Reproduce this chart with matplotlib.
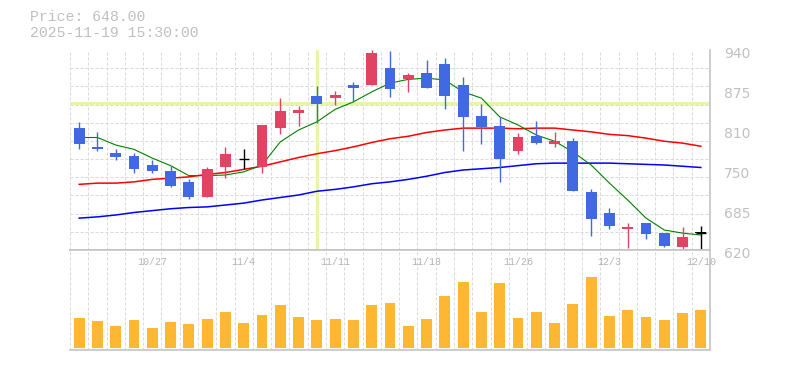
import numpy as np
import matplotlib
matplotlib.use('Agg')
import matplotlib.pyplot as plt
from matplotlib.transforms import ScaledTranslation, blended_transform_factory

# Daily OHLC, volume and moving averages
dates = ['10/21', '10/22', '10/23', '10/24', '10/27', '10/28', '10/29', '10/30', '10/31',
         '11/4', '11/5', '11/6', '11/7', '11/10', '11/11', '11/12', '11/13', '11/14',
         '11/17', '11/18', '11/19', '11/20', '11/21', '11/25', '11/26', '11/27', '11/28',
         '12/1', '12/2', '12/3', '12/4', '12/5', '12/8', '12/9', '12/10']
opens = [815, 785, 776, 770, 756, 746, 729, 705, 753, 765, 753, 816, 840, 866, 864, 884, 884, 911,
         893, 903, 918, 884, 834, 818, 778, 802, 790, 794, 713, 679, 653, 663, 647, 625, 648]
closes = [790, 782, 769, 749, 747, 723, 705, 750, 774, 765, 820, 842, 844, 854, 868, 880, 935, 878,
          900, 880, 867, 833, 817, 765, 801, 792, 794, 715, 669, 659, 657, 645, 626, 641, 648]
highs = [825, 809, 782, 776, 764, 755, 734, 753, 785, 782, 820, 863, 850, 882, 874, 889, 940, 938,
         904, 924, 927, 897, 854, 833, 807, 826, 809, 799, 718, 687, 663, 664, 647, 657, 658]
lows = [782, 779, 764, 744, 744, 721, 701, 705, 736, 750, 744, 805, 819, 824, 852, 859, 884, 865,
        873, 880, 845, 779, 790, 729, 774, 789, 785, 715, 643, 653, 624, 637, 625, 622, 621]
volumes = [300, 270, 220, 280, 200, 260, 240, 290, 360, 250, 330, 430, 310, 280, 290, 280, 430, 450,
           220, 290, 520, 660, 360, 650, 300, 360, 250, 440, 710, 320, 380, 310, 280, 350, 380]
ma5 = [800, 800, 788, 781, 767, 755, 739, 739, 740, 745, 756, 793, 812, 825, 845, 857, 873, 887,
       893, 895, 892, 873, 863, 833, 820, 804, 794, 777, 756, 727, 700, 671, 652, 647, 644]
ma25 = [725, 727, 727, 729, 733, 735, 737, 741, 744, 749, 754, 761, 768, 774, 779, 785, 792, 798,
        802, 808, 812, 815, 815, 815, 814, 815, 815, 812, 809, 805, 803, 799, 794, 791, 786]
ma75 = [671, 673, 676, 680, 683, 686, 688, 689, 692, 695, 700, 704, 708, 714, 717, 721, 726, 729,
        733, 738, 744, 748, 750, 752, 755, 758, 759, 759, 759, 759, 758, 757, 756, 754, 752]

price_ticks = [940, 876, 812, 748, 684, 620]
price_labels = ['940', '875', '810', '750', '685', '620']
date_label_idx = [4, 9, 14, 19, 24, 29, 34]
cross_idx = 13
cross_price = 855

UP = '#E04462'
DOWN = '#4169E1'
GRID = '#d9d9d9'
EDGE = '#c4c4c4'
TXT = '#c0c0c0'

W, H = 785, 370
fig = plt.figure(figsize=(W / 100, H / 100), dpi=100)
ax = fig.add_axes([70 / W, (H - 250) / H, 640 / W, 200 / H])
axv = fig.add_axes([70 / W, (H - 350) / H, 640 / W, 100 / H])

x = np.arange(len(dates))
o, c, h, l = map(np.array, (opens, closes, highs, lows))

# grid
for a in (ax, axv):
    a.set_xlim(-0.5, len(dates) - 0.5)
    a.set_xticks(np.arange(-0.5, len(dates), 1), minor=True)
    a.set_xticks([])
    a.grid(which='minor', axis='x', color=GRID, lw=0.72, dashes=(3, 2))
    a.tick_params(which='both', length=0)
    a.set_axisbelow(True)

ax.set_ylim(620, 940)
ax.set_yticks(np.linspace(620, 940, 12), minor=True)
ax.grid(which='minor', axis='y', color=GRID, lw=0.72, dashes=(3, 2))

# crosshair
ax.axvline(cross_idx, color='#e6f5a8', lw=2.2, zorder=1.5)
ax.axhline(cross_price, color='#e6f5a8', lw=2.2, zorder=1.5)

# moving averages
ax.plot(x, ma75, color='#0000ff', lw=1.1, zorder=2)
ax.plot(x, ma25, color='#ff0000', lw=1.1, zorder=2)
ax.plot(x, ma5, color='#008000', lw=0.8, zorder=2)

# candles
cols = [UP if cc > oo else (DOWN if cc < oo else 'black') for oo, cc in zip(o, c)]
ax.vlines(x, l, h, colors=cols, lw=1.0, zorder=3)
body = np.maximum(np.abs(c - o), 0.8)
ax.bar(x, body, bottom=np.minimum(o, c), width=0.6, color=cols, zorder=4)
for i in range(len(x)):
    if o[i] == c[i]:
        ax.hlines(o[i], i - 0.28, i + 0.28, colors='black', lw=1.0, zorder=4)

# volume
axv.bar(x, volumes, width=0.6, color='#FDB733', zorder=3)
axv.set_ylim(-20, 980)
axv.set_yticks([])

# spines
for s in ('left', 'top'):
    ax.spines[s].set_visible(False)
axv.spines['left'].set_visible(False)
for a, names in ((ax, ('right', 'bottom')), (axv, ('right', 'bottom', 'top'))):
    for s in names:
        a.spines[s].set_color(EDGE)
        a.spines[s].set_linewidth(1.2)

# price labels on the right
ax.yaxis.tick_right()
ax.set_yticks(price_ticks)
ax.set_yticklabels(price_labels, fontsize=10, color=TXT, family='DejaVu Sans')
ax.tick_params(axis='y', which='major', length=0, pad=10)
for lab in ax.get_yticklabels():
    lab.set_transform(lab.get_transform() + ScaledTranslation(0, -0.03, fig.dpi_scale_trans))

# date labels inside top of the volume panel
tr = blended_transform_factory(axv.transData, axv.transAxes)
for i in date_label_idx:
    axv.text(i, 0.88, dates[i], transform=tr, ha='center', va='center',
             fontsize=7.2, color='#b4b4b4', family='Liberation Mono')

fig.text(30 / W, 1 - 17 / H, 'Price: 648.00', fontsize=10.7, color=TXT,
         family='Liberation Mono', va='center', ha='left')
fig.text(30 / W, 1 - 33 / H, '2025-11-19 15:30:00', fontsize=10.7, color=TXT,
         family='Liberation Mono', va='center', ha='left')

fig.savefig('out.png', dpi=100)
